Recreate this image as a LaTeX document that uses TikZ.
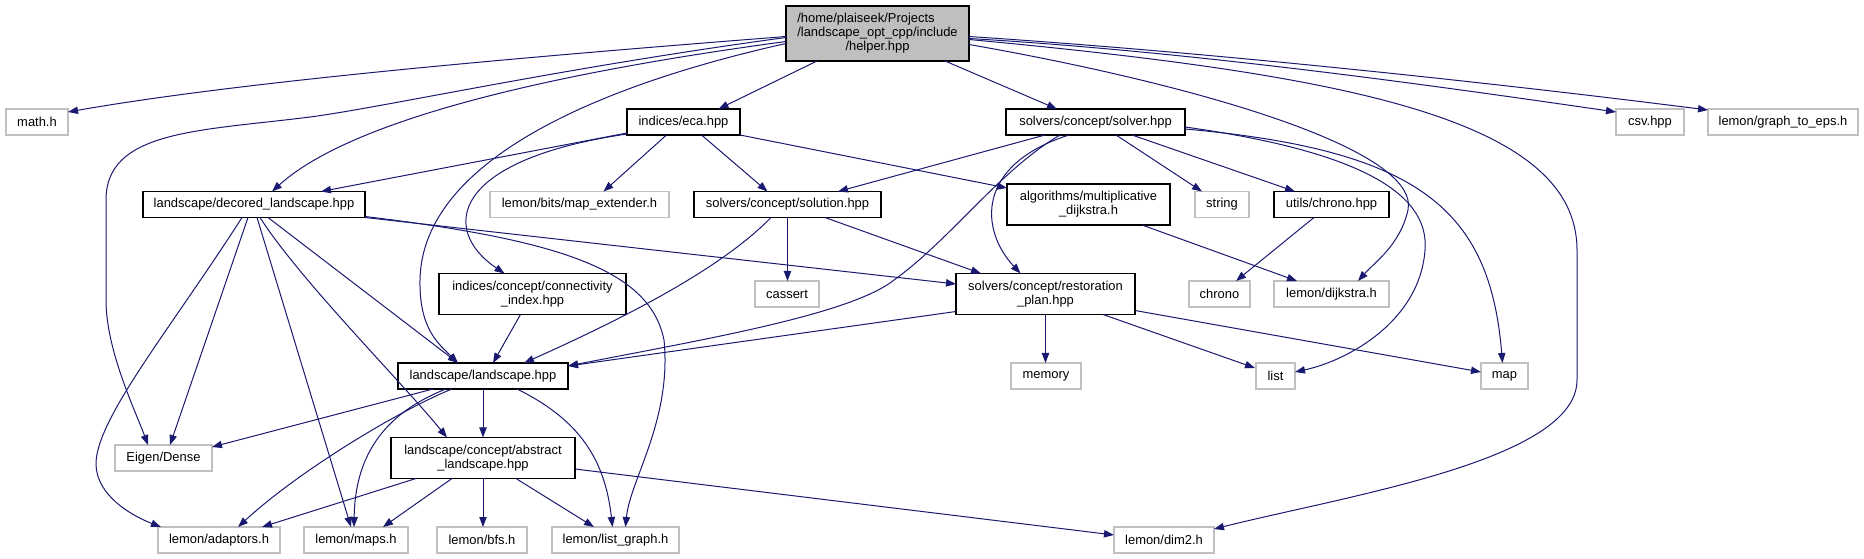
\documentclass[tikz,border=0pt]{standalone}
\usepackage{fontspec}
\setmainfont{Liberation Sans}
\usetikzlibrary{arrows.meta,calc}
\definecolor{edgeblue}{HTML}{191970}
\definecolor{extgray}{HTML}{BFBFBF}
\definecolor{hgray}{HTML}{BFBFBF}
\begin{document}
\begin{tikzpicture}[x=0.75pt,y=-0.75pt,
  sz/.style 2 args={minimum width=#1*0.75pt, minimum height=#2*0.75pt},
  base/.style={inner sep=0pt, outer sep=0pt, line width=0.9pt, align=center,
    font=\fontsize{9.7}{10.5}\selectfont, fill=white},
  doc/.style={base, draw=black},
  ext/.style={base, draw=extgray},
  edge/.style={draw=edgeblue, line width=0.75pt, -{Triangle[length=7.5pt,width=5.5pt]}}]
\useasboundingbox (0,0) rectangle (1864,559);

% nodes
\node[doc, fill=hgray, sz={183}{55}] (helper) at (877.5,33.5)
  {\begin{tabular}{@{}l@{}}/home/plaiseek/Projects\\/landscape\_opt\_cpp/include\\\multicolumn{1}{@{}c@{}}{/helper.hpp}\end{tabular}};
\node[ext, sz={62}{26}] (math) at (37,122) {math.h};
\node[doc, sz={113}{26}] (eca) at (683.5,122) {indices/eca.hpp};
\node[doc, sz={179}{26}] (solver) at (1095.5,122) {solvers/concept/solver.hpp};
\node[ext, sz={68}{26}] (csv) at (1650,122) {csv.hpp};
\node[ext, sz={150}{26}] (gte) at (1783,122) {lemon/graph\_to\_eps.h};
\node[doc, sz={222}{26}] (decored) at (254,204.5) {landscape/decored\_landscape.hpp};
\node[ext, sz={179}{26}] (mapext) at (579.5,204.5) {lemon/bits/map\_extender.h};
\node[doc, sz={187}{26}] (solution) at (787.5,204.5) {solvers/concept/solution.hpp};
\node[doc, sz={163}{41}] (mult) at (1088.5,204.5) {algorithms/multiplicative\\\_dijkstra.h};
\node[ext, sz={54}{26}] (string) at (1222,204.5) {string};
\node[doc, sz={115}{26}] (chronohpp) at (1331.5,204.5) {utils/chrono.hpp};
\node[doc, sz={187}{41}] (conn) at (532.5,294) {indices/concept/connectivity\\\_index.hpp};
\node[ext, sz={64}{26}] (cassert) at (787,294) {cassert};
\node[doc, sz={179}{41}] (resto) at (1045.5,294) {solvers/concept/restoration\\\_plan.hpp};
\node[ext, sz={61}{26}] (chrono) at (1219.5,294) {chrono};
\node[ext, sz={115}{26}] (dijkstra) at (1331.5,294) {lemon/dijkstra.h};
\node[doc, sz={170}{26}] (land) at (483,376) {landscape/landscape.hpp};
\node[ext, sz={70}{26}] (memory) at (1046,376) {memory};
\node[ext, sz={39}{26}] (list) at (1275.5,376) {list};
\node[ext, sz={47}{26}] (map) at (1504.5,376) {map};
\node[ext, sz={97}{26}] (eigen) at (163.5,458) {Eigen/Dense};
\node[doc, sz={184}{41}] (abstract) at (483,458) {landscape/concept/abstract\\\_landscape.hpp};
\node[ext, sz={122}{26}] (adaptors) at (219,540) {lemon/adaptors.h};
\node[ext, sz={104}{26}] (maps) at (356,540) {lemon/maps.h};
\node[ext, sz={90}{26}] (bfs) at (482,540) {lemon/bfs.h};
\node[ext, sz={127}{26}] (listgraph) at (615.5,540) {lemon/list\_graph.h};
\node[ext, sz={100}{26}] (dim2) at (1164,540) {lemon/dim2.h};

% helper edges
\draw[edge] ($(helper.west)+(0,3)$) .. controls (550,55) and (250,80) .. ($(math.north east)+(0,3)$);
\draw[edge] ($(helper.west)+(0,4)$) .. controls (560,68) and (380,108) .. (310,117) .. controls (200,131) and (106,130) .. (106,200) -- (106,300) .. controls (106,350) and (135,410) .. ($(eigen.north west)+(33,0)$);
\draw[edge] ($(helper.west)+(0,8)$) .. controls (500,80) and (340,130) .. ($(decored.north)+(18,0)$);
\draw[edge] ($(helper.west)+(0,10)$) .. controls (600,85) and (422,160) .. (420,280) .. controls (419,330) and (440,345) .. ($(land.north)+(-25,0)$);
\draw[edge] ($(helper.south west)+(31,0)$) -- ($(eca.north)+(35,0)$);
\draw[edge] ($(helper.south east)+(-24,0)$) -- ($(solver.north west)+(51,0)$);
\draw[edge] ($(helper.east)+(0,5)$) .. controls (1200,52) and (1450,88) .. ($(csv.north west)+(0,3)$);
\draw[edge] ($(helper.east)+(0,3)$) .. controls (1250,55) and (1550,90) .. ($(gte.north west)+(0,1)$);
\draw[edge] ($(helper.east)+(0,11)$) .. controls (1200,85) and (1420,150) .. (1408,210) .. controls (1400,245) and (1375,262) .. ($(dijkstra.north east)+(-31,0)$);
\draw[edge] ($(helper.east)+(0,6)$) .. controls (1350,75) and (1577,120) .. (1577,250) -- (1577,380) .. controls (1577,460) and (1350,495) .. ($(dim2.north east)+(0,2)$);

% eca edges
\draw[edge] ($(eca.south west)+(0,-2)$) -- ($(decored.north east)+(-44,0)$);
\draw[edge] ($(eca.south west)+(0,-1)$) .. controls (450,160) and (440,230) .. ($(conn.north)+(-28,0)$);
\draw[edge] ($(eca.south)+(-17,0)$) -- ($(mapext.north)+(24,0)$);
\draw[edge] ($(eca.south)+(18,0)$) -- ($(solution.north)+(-20,0)$);
\draw[edge] (eca.south east) -- ($(mult.north west)+(0,4)$);

% solver edges
\draw[edge] ($(solver.south west)+(39,0)$) -- ($(solution.north east)+(-43,0)$);
\draw[edge] ($(solver.south west)+(63,0)$) .. controls (975,165) and (980,230) .. ($(resto.north)+(-25,0)$);
\draw[edge] ($(solver.south west)+(54,0)$) .. controls (1000,170) and (950,240) .. (894,280) .. controls (850,315) and (700,340) .. ($(land.north east)+(0,3)$);
\draw[edge] ($(solver.south west)+(110,0)$) -- ($(string.north west)+(7,0)$);
\draw[edge] ($(solver.south west)+(126,0)$) -- ($(chronohpp.north west)+(21,0)$);
\draw[edge] ($(solver.east)+(0,5)$) .. controls (1350,150) and (1430,190) .. (1425,250) .. controls (1420,320) and (1350,360) .. ($(list.east)+(0,-4)$);
\draw[edge] ($(solver.east)+(0,7)$) .. controls (1420,150) and (1490,210) .. ($(map.north)+(-2,0)$);

% mult, chrono
\draw[edge] ($(mult.south east)+(-28,0)$) -- ($(dijkstra.north west)+(23,0)$);
\draw[edge] ($(chronohpp.south west)+(40,0)$) -- ($(chrono.north east)+(-14,0)$);

% solution edges
\draw[edge] ($(solution.south west)+(77,0)$) .. controls (720,270) and (620,320) .. ($(land.north east)+(-44,0)$);
\draw[edge] (solution.south) -- (solution.south |- cassert.north);
\draw[edge] ($(solution.south east)+(-56,0)$) -- ($(resto.north west)+(25,0)$);

% decored edges
\draw[edge] (decored.south east) -- ($(resto.west)+(0,-10)$);
\draw[edge] ($(decored.south east)+(0,-1)$) .. controls (560,240) and (650,270) .. (664,340) .. controls (672,420) and (630,480) .. ($(listgraph.north)+(10,0)$);
\draw[edge] ($(decored.south west)+(99,0)$) .. controls (170,330) and (95,420) .. (96,465) .. controls (97,495) and (130,515) .. ($(adaptors.north west)+(3,0)$);
\draw[edge] ($(decored.south west)+(105,0)$) -- ($(eigen.north east)+(-42,0)$);
\draw[edge] ($(decored.south west)+(114,0)$) -- ($(maps.north)+(-5,0)$);
\draw[edge] ($(decored.south west)+(117,0)$) .. controls (300,280) and (400,380) .. ($(abstract.north west)+(56,0)$);
\draw[edge] ($(decored.south west)+(125,0)$) -- ($(land.north)+(-25,0)$);

% conn
\draw[edge] ($(conn.south)+(-12,0)$) -- ($(land.north)+(10,0)$);

% landscape edges
\draw[edge] ($(land.south west)+(35,0)$) -- ($(eigen.north east)+(0,2)$);
\draw[edge] ($(land.south west)+(54,0)$) .. controls (400,410) and (300,470) .. ($(adaptors.north east)+(-42,0)$);
\draw[edge] ($(land.south west)+(48,0)$) .. controls (380,415) and (355,460) .. ($(maps.north)+(-2,0)$);
\draw[edge] (land.south) -- (abstract.north);
\draw[edge] ($(land.south east)+(-51,0)$) .. controls (580,420) and (605,460) .. ($(listgraph.north)+(-3,0)$);

% abstract edges
\draw[edge] ($(abstract.south west)+(25,0)$) -- ($(adaptors.north east)+(-18,0)$);
\draw[edge] ($(abstract.south west)+(61,0)$) -- ($(maps.north east)+(-25,0)$);
\draw[edge] (abstract.south) -- (abstract.south |- bfs.north);
\draw[edge] ($(abstract.south east)+(-59,0)$) -- ($(listgraph.north west)+(42,0)$);
\draw[edge] ($(abstract.east)+(0,11)$) -- ($(dim2.west)+(0,-5)$);

% restoration edges
\draw[edge] ($(resto.south west)+(0,-3)$) -- ($(land.north east)+(0,3)$);
\draw[edge] (resto.south) -- (resto.south |- memory.north);
\draw[edge] ($(resto.south east)+(-32,0)$) -- ($(list.north west)+(-1,5)$);
\draw[edge] ($(resto.south east)+(0,-4)$) -- ($(map.west)+(0,-4)$);
\end{tikzpicture}
\end{document}
